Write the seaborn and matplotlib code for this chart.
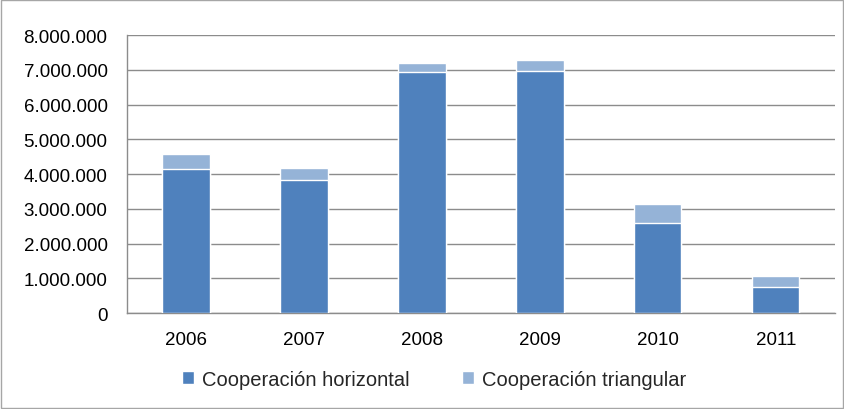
import pandas as pd
import matplotlib.pyplot as plt
import matplotlib.ticker as mticker
import seaborn as sns
import numpy as np

years = ["2006", "2007", "2008", "2009", "2010", "2011"]
horizontal = [4140000, 3840000, 6930000, 6960000, 2600000, 760000]
triangular = [440000, 330000, 260000, 320000, 530000, 300000]

df = pd.DataFrame({"year": years, "horizontal": horizontal, "triangular": triangular})
df["total"] = df["horizontal"] + df["triangular"]

sns.set_theme(style="white")
plt.rcParams["font.family"] = ["Liberation Sans", "DejaVu Sans"]

fig = plt.figure(figsize=(8.45, 4.10), dpi=100)
ax = fig.add_axes([0.1503, 0.234, 0.8377, 0.678])

dark = "#4F81BD"
light = "#95B3D7"

# stacked: total in light, horizontal on top in dark
sns.barplot(data=df, x="year", y="total", color=light, width=0.4, saturation=1,
            ax=ax, label="Cooperación triangular", zorder=3)
sns.barplot(data=df, x="year", y="horizontal", color=dark, width=0.4, saturation=1,
            ax=ax, label="Cooperación horizontal", zorder=3)

ax.set_ylim(0, 8000000)
ax.set_xlim(-0.5, 5.5)
ax.yaxis.set_major_locator(mticker.MultipleLocator(1000000))
ax.yaxis.set_major_formatter(mticker.FuncFormatter(lambda v, p: f"{int(v):,}".replace(",", ".")))
ax.grid(axis="y", color="#8c8c8c", linewidth=1, zorder=0)
ax.set_axisbelow(True)
ax.set_xlabel("")
ax.set_ylabel("")

for s in ["top", "right"]:
    ax.spines[s].set_visible(False)
for s in ["left", "bottom"]:
    ax.spines[s].set_color("#8c8c8c")
    ax.spines[s].set_linewidth(1)

ax.tick_params(axis="x", which="major", length=0, labelsize=13.5, pad=13, colors="black")
ax.set_xticks(np.arange(-0.5, 6, 1), minor=True)
ax.tick_params(axis="x", which="minor", length=5, color="#8c8c8c", width=1, direction="out")
ax.tick_params(axis="y", length=5, color="#8c8c8c", width=1, labelsize=13.5, colors="black", pad=9)

handles, labels = ax.get_legend_handles_labels()
order = [labels.index("Cooperación horizontal"), labels.index("Cooperación triangular")]
fig.legend([handles[i] for i in order], [labels[i] for i in order],
           loc="center", bbox_to_anchor=(0.514, 0.073), ncol=2, frameon=False,
           fontsize=14.5, handlelength=0.6, handleheight=0.6, columnspacing=2.6, handletextpad=0.4)
if ax.get_legend() is not None:
    ax.get_legend().remove()

# outer border like the spreadsheet chart
fig.patches.append(plt.Rectangle((0.001, 0.002), 0.997, 0.995, transform=fig.transFigure,
                                 fill=False, edgecolor="#a6a6a6", linewidth=1))

fig.savefig("out.png", dpi=100)
